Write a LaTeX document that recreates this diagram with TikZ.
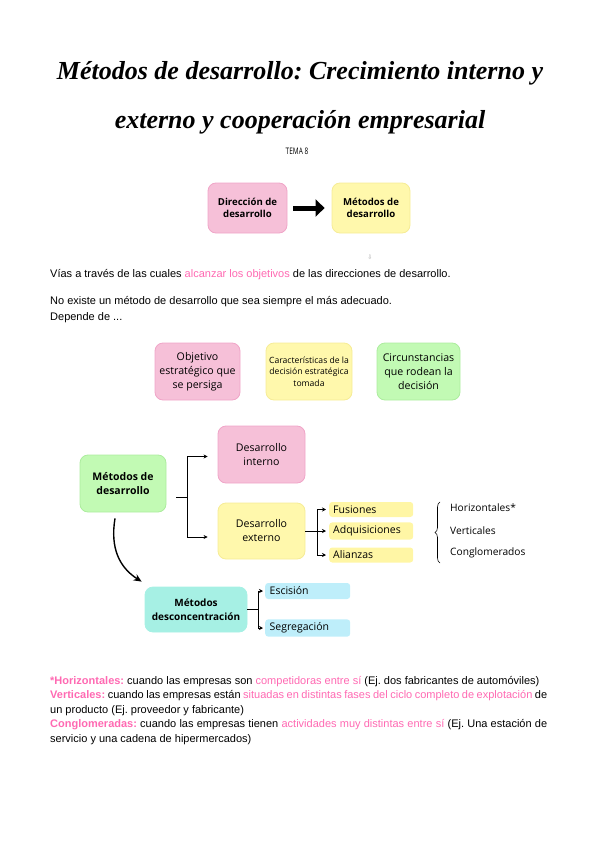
\documentclass[tikz,border=0pt]{standalone}
\usepackage{fontspec}
\setmainfont{Liberation Sans}
\newfontfamily\boxfont{Open Sans}
\newfontfamily\titlefont{Liberation Serif}
\newfontfamily\symfont{DejaVu Sans}
\usetikzlibrary{arrows.meta,positioning,calc,decorations.pathreplacing}
\frenchspacing
\definecolor{boxpink}{RGB}{246,192,216}
\definecolor{linepink}{RGB}{240,165,200}
\definecolor{boxyellow}{RGB}{255,248,172}
\definecolor{lineyellow}{RGB}{246,236,150}
\definecolor{boxgreen}{RGB}{194,250,180}
\definecolor{linegreen}{RGB}{172,236,158}
\definecolor{boxcyan}{RGB}{166,240,228}
\definecolor{tagcyan}{RGB}{190,238,250}
\definecolor{tagyellow}{RGB}{255,246,165}
\definecolor{txtpink}{RGB}{255,105,178}
\tikzset{
  mbox/.style={rectangle, rounded corners=8pt, line width=0.8pt,
               align=center, inner sep=2pt,
               font=\boxfont\fontsize{10.6}{14}\selectfont},
  pinkbox/.style={mbox, fill=boxpink, draw=linepink},
  yellowbox/.style={mbox, fill=boxyellow, draw=lineyellow},
  greenbox/.style={mbox, fill=boxgreen, draw=linegreen},
  cyanbox/.style={mbox, fill=boxcyan, draw=boxcyan},
  boldtext/.style={font=\boxfont\bfseries\fontsize{9.6}{12.5}\selectfont},
  tagbox/.style={rectangle, rounded corners=3pt, anchor=west,
                 minimum height=15pt, minimum width=84pt,
                 text width=76pt, inner xsep=4pt, align=left,
                 font=\boxfont\fontsize{10.5}{11}\selectfont},
  bodytext/.style={anchor=west, inner sep=0pt, align=left,
                   font=\fontsize{11}{16.5}\selectfont},
  brline/.style={line width=0.8pt},
  brarrow/.style={-{Stealth[length=4pt,width=4pt]}, line width=0.8pt},
}

\begin{document}
\begin{tikzpicture}[
    x=1pt, y=-1pt,
    bigarrow/.style={-{Triangle[length=9pt,width=17pt]}, line width=5pt},
    curvearrow/.style={-{Stealth[length=8pt,width=7pt]}, line width=1.4pt},
    kindlabel/.style={anchor=west, inner sep=0pt,
                      font=\boxfont\fontsize{10.2}{11}\selectfont},
  ]
  \useasboundingbox (0,0) rectangle (600,848);

  % title
  \node[align=center, inner sep=0pt,
        font=\titlefont\bfseries\itshape\fontsize{26}{49}\selectfont]
        (title) at (300,98) {Métodos de desarrollo: Crecimiento interno y\\externo y cooperación empresarial};
  \node[inner sep=0pt, font=\boxfont\fontsize{9}{9}\selectfont] (tema) at (297,151) {\scalebox{0.72}[1]{TEMA 8}};

  % top pair
  \node[pinkbox, boldtext, minimum width=79pt, minimum height=50pt] (DD) at (247.5,208) {Dirección de\\desarrollo};
  \node[yellowbox, boldtext, minimum width=78pt, minimum height=50pt] (MT) at (371,208) {Métodos de\\desarrollo};
  \draw[bigarrow, shorten <=6pt, shorten >=7pt] (DD) -- (MT);
  \node[inner sep=0pt, text=black!35, font=\symfont\fontsize{6}{6}\selectfont] (dn) at (370,257) {⇩};

  % text
  \node[bodytext] (via) at (50,275) {Vías a través de las cuales \textcolor{txtpink}{alcanzar los objetivos} de las direcciones de desarrollo.};
  \node[bodytext, anchor=north west] (dep) at (50,296) {No existe un método de desarrollo que sea siempre el más adecuado.\\Depende de ...};

  % depends on
  \node[pinkbox, minimum width=85pt, minimum height=57pt] (OB) at (197.5,371.5) {Objetivo\\estratégico que\\se persiga};
  \node[yellowbox, minimum width=86pt, minimum height=57pt,
        font=\boxfont\fontsize{8.6}{11.5}\selectfont] (CA) at (309,371.5) {Características de la\\decisión estratégica\\tomada};
  \node[greenbox, minimum width=83pt, minimum height=57pt] (CI) at (418.5,371.5) {Circunstancias\\que rodean la\\decisión};

  % methods tree
  \node[greenbox, font=\boxfont\bfseries\fontsize{10.5}{14}\selectfont,
        minimum width=86pt, minimum height=57pt] (MD) at (123,483.5) {Métodos de\\desarrollo};
  \node[pinkbox, minimum width=87pt, minimum height=57pt] (DI) at (261.5,454.5) {Desarrollo\\interno};
  \node[yellowbox, minimum width=87pt, minimum height=56pt] (DE) at (261.5,531) {Desarrollo\\externo};
  \coordinate (mdout) at (176,497);
  \coordinate (jA) at (187,497);
  \draw[brline] (mdout) -- (jA);
  \draw[brarrow] (jA) |- ([xshift=-10pt,yshift=-2pt]DI.west);
  \draw[brarrow] (jA) |- ([xshift=-10pt,yshift=-6pt]DE.west);

  \node[tagbox, fill=tagyellow] (FU) at (329,509.5) {Fusiones};
  \node[tagbox, fill=tagyellow] (AD) at (329,531) {Adquisiciones};
  \node[tagbox, fill=tagyellow] (AL) at (329,555) {Alianzas};
  \coordinate (jB) at (317,531);
  \draw[brline] (DE.east) -- (jB);
  \draw[brarrow] (jB) |- ([xshift=-3pt]FU.west);
  \draw[brarrow] (jB) -- ([xshift=-3pt]AD.west);
  \draw[brarrow] (jB) |- ([xshift=-3pt]AL.west);

  \draw[line width=0.6pt, decorate, decoration={brace, amplitude=5pt}] (440,563) -- (440,502);
  \node[kindlabel] (HO) at (450,508) {Horizontales*};
  \node[kindlabel] (VE) at (450,531) {Verticales};
  \node[kindlabel] (CO) at (450,553) {Conglomerados};

  % deconcentration
  \node[cyanbox, font=\boxfont\bfseries\fontsize{10}{14}\selectfont,
        minimum width=102pt, minimum height=45pt] (MDC) at (196,609.5) {Métodos\\desconcentración};
  \draw[curvearrow] ([xshift=-8pt,yshift=-6pt]MD.south) .. controls +(-5,30) and +(-22,-14) .. ([xshift=-3pt,yshift=5pt]MDC.north west);
  \node[tagbox, fill=tagcyan, minimum width=85pt, minimum height=16pt] (ES) at (265,591) {Escisión};
  \node[tagbox, fill=tagcyan, minimum width=85pt, minimum height=16pt] (SE) at (265,628) {Segregación};
  \coordinate (jC) at (258,609.5);
  \draw[brline] (MDC.east) -- (jC);
  \draw[brarrow] (jC) |- ([xshift=-2pt]ES.west);
  \draw[brarrow] (jC) |- ([xshift=-2pt]SE.west);

  % notes
  \node[anchor=north west, inner sep=0pt, align=left,
        font=\fontsize{11}{14.5}\selectfont] (notes) at (50,676) {%
    \textcolor{txtpink}{\bfseries *Horizontales:} cuando las empresas son \textcolor{txtpink}{competidoras entre sí} (Ej. dos fabricantes de automóviles)\\
    \makebox[497pt][s]{\textcolor{txtpink}{\bfseries Verticales:} cuando las empresas están \textcolor{txtpink}{situadas en distintas fases del ciclo completo de explotación} de}\\
    un producto (Ej. proveedor y fabricante)\\
    \makebox[497pt][s]{\textcolor{txtpink}{\bfseries Conglomeradas:} cuando las empresas tienen \textcolor{txtpink}{actividades muy distintas entre sí} (Ej. Una estación de}\\
    servicio y una cadena de hipermercados)};
\end{tikzpicture}
\end{document}
